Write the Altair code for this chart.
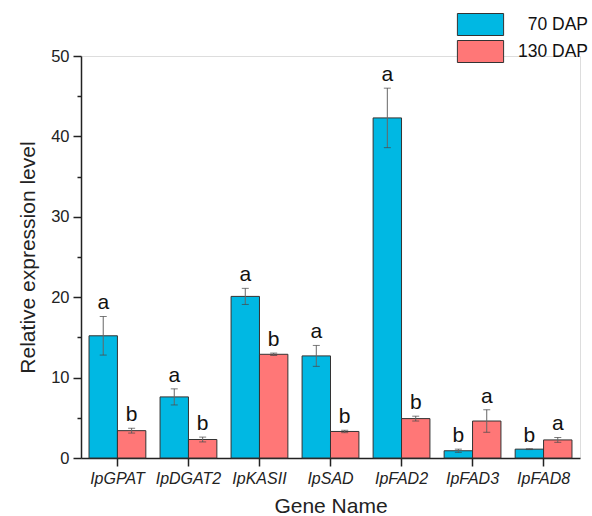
import altair as alt
import pandas as pd

genes = ["IpGPAT", "IpDGAT2", "IpKASII", "IpSAD", "IpFAD2", "IpFAD3", "IpFAD8"]
mean70 = [15.2, 7.6, 20.1, 12.7, 42.3, 0.9, 1.1]
sd70 = [2.4, 1.0, 1.0, 1.3, 3.7, 0.2, 0.05]
letters70 = ["a", "a", "a", "a", "a", "b", "b"]
mean130 = [3.4, 2.3, 12.9, 3.3, 4.9, 4.6, 2.25]
sd130 = [0.3, 0.3, 0.15, 0.15, 0.3, 1.4, 0.3]
letters130 = ["b", "b", "b", "b", "b", "a", "a"]
groups = ["70 DAP", "130 DAP"]
colors = ["#00B8E3", "#FF7777"]

rows = []
for g, m, s, l in zip(genes, mean70, sd70, letters70):
    rows.append(dict(gene=g, group=groups[0], mean=m, lo=m - s, hi=m + s, letter=l))
for g, m, s, l in zip(genes, mean130, sd130, letters130):
    rows.append(dict(gene=g, group=groups[1], mean=m, lo=m - s, hi=m + s, letter=l))
df = pd.DataFrame(rows)

FONT = "Liberation Sans"

x = alt.X("gene:N", sort=genes, title="Gene Name",
          scale=alt.Scale(paddingInner=0.2, paddingOuter=0.113),
          axis=alt.Axis(labelAngle=0, labelFontStyle="italic", labelFontSize=16,
                        labelFont=FONT, labelColor="#222", titleFont=FONT,
                        titleFontSize=21, titleFontWeight="normal", titleColor="#222",
                        titlePadding=9, tickSize=8, tickColor="#222", tickWidth=1.5,
                        domainColor="#222", domainWidth=1.5, labelPadding=4))
xo = alt.XOffset("group:N", sort=groups)

yscale = alt.Scale(domain=[0, 50], nice=False)

base = alt.Chart(df)

bars = base.mark_bar(stroke="#333", strokeWidth=1).encode(
    x=x, xOffset=xo,
    y=alt.Y("mean:Q", scale=yscale, title="Relative expression level",
            axis=alt.Axis(values=list(range(0, 51, 5)),
                          labelExpr="datum.value % 10 === 0 ? datum.label : ''",
                          tickSize={"condition": {"test": "datum.value % 10 === 0", "value": 8}, "value": 4},
                          grid=False, labelFontSize=16.5, labelFont=FONT, labelColor="#222",
                          titleFont=FONT, titleFontSize=21, titleFontWeight="normal",
                          titleColor="#222", titlePadding=12, tickColor="#222",
                          tickWidth=1.5, domainColor="#222", domainWidth=1.5,
                          labelPadding=4)),
    fill=alt.Fill("group:N", sort=groups,
                  scale=alt.Scale(domain=groups, range=colors),
                  legend=alt.Legend(title=None, orient="none", legendX=388, legendY=-43,
                                    symbolType="M-2.1,-1H2.1V1H-2.1Z", symbolSize=484,
                                    symbolStrokeColor="#333", symbolStrokeWidth=1,
                                    labelFontSize=17.5, labelFont=FONT, labelColor="#111",
                                    labelAlign="right", labelOffset=96, rowPadding=0,
                                    labelLimit=200)),
)

err = base.mark_rule(color="#666", strokeWidth=1).encode(
    x=x, xOffset=xo, y="lo:Q", y2="hi:Q")
caphi = base.mark_tick(color="#444", size=7, thickness=1).encode(
    x=x, xOffset=xo, y="hi:Q")
caplo = base.mark_tick(color="#444", size=7, thickness=1).encode(
    x=x, xOffset=xo, y="lo:Q")
txt = base.mark_text(baseline="bottom", dy=-3, fontSize=21, font=FONT, color="#111").encode(
    x=x, xOffset=xo, y="hi:Q", text="letter:N")

chart = alt.layer(bars, err, caphi, caplo, txt).properties(
    width=499, height=402,
    autosize=alt.AutoSizeParams(type="none"),
    padding={"left": 81, "top": 56, "right": 12, "bottom": 58},
).configure_view(stroke=None).configure(background="white")

chart.save("out.html", embed_options={"renderer": "svg", "actions": False})
